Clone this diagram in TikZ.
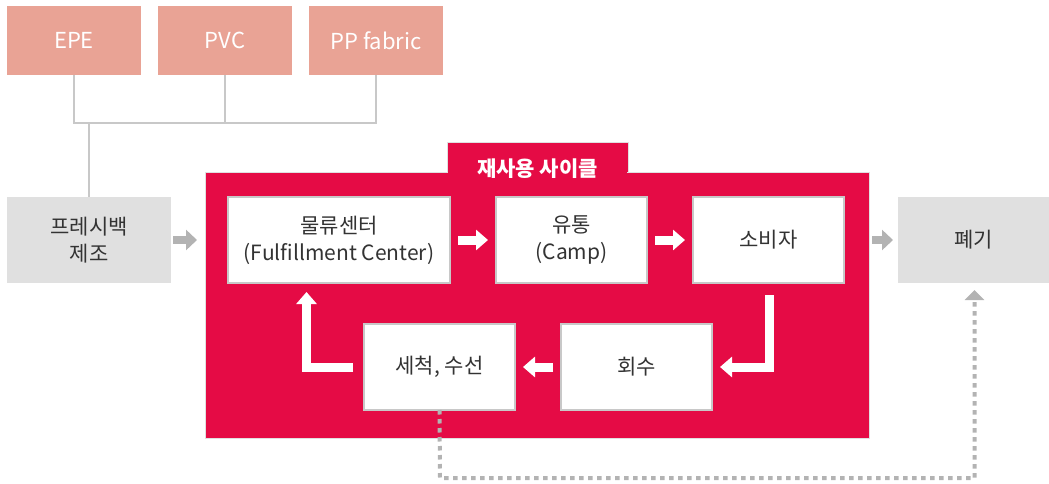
\documentclass[tikz,border=0pt]{standalone}
\usepackage{fontspec}
\setmainfont{Noto Sans CJK KR}
\usetikzlibrary{arrows.meta}
\definecolor{pinkc}{HTML}{E9A395}
\definecolor{redc}{HTML}{E50B45}
\definecolor{greyc}{HTML}{E0E0E0}
\definecolor{linec}{HTML}{C8C8C8}
\definecolor{arrc}{HTML}{B3B3B3}
\definecolor{txtc}{HTML}{333333}
\begin{document}
\begin{tikzpicture}[x=1pt,y=-1pt,
  every node/.style={inner sep=0pt, outer sep=0pt},
  matbox/.style={fill=pinkc, minimum width=134pt, minimum height=69pt, text=white, font=\fontsize{22}{26}\selectfont},
  greybox/.style={fill=greyc, minimum width=164pt, minimum height=86pt, text=txtc, align=center, font=\fontsize{21}{27}\selectfont},
  whitebox/.style={fill=white, draw=linec, line width=1.5pt, minimum width=151pt, minimum height=86pt, text=txtc, align=center, font=\fontsize{21}{27}\selectfont},
  conn/.style={draw=linec, line width=2pt},
  warr/.style={draw=white, line width=9pt, -{Triangle[width=20pt,length=12pt]}},
  garr/.style={draw=arrc, line width=8pt, -{Triangle[width=20pt,length=11pt]}},
  dotarr/.style={draw=arrc, line width=4pt, dash pattern=on 4.5pt off 4.5pt, -{Triangle[width=19pt,length=10pt]}}
]
\useasboundingbox (0,0) rectangle (1049,484);
% material boxes
\node[matbox] (epe) at (74,40.5) {EPE};
\node[matbox] (pvc) at (225,40.5) {PVC};
\node[matbox] (pp) at (376,40.5) {PP fabric};
\coordinate (bus) at (0,123);
% fresh bag box
\node[greybox] (fresh) at (89,240) {프레시백\\제조};
\draw[conn] (epe.south) -- (epe.south|-bus) -- (pp.south|-bus) -- (pp.south);
\draw[conn] (pvc.south) -- (pvc.south|-bus);
\draw[conn] (fresh.north|-bus) -- (fresh.north);
% reuse cycle frame
\node[fill=redc, draw=greyc, line width=1pt, minimum width=181pt, minimum height=30pt] (tab) at (537.5,158) {};
\node[fill=redc, draw=greyc, line width=1pt, minimum width=664pt, minimum height=266pt] (cycle) at (537,305) {};
\fill[redc] (448,168) rectangle (627,176);
\node[text=white, font=\fontsize{21}{25}\selectfont\bfseries] (tabtxt) at (537.5,169) {재사용 사이클};
% inner boxes
\node[whitebox, minimum width=222pt] (mul) at (339,240) {물류센터\\(Fulfillment Center)};
\node[whitebox] (yu) at (571.5,240) {유통\\(Camp)};
\node[whitebox] (so) at (768.5,240) {소비자};
\node[whitebox] (se) at (439.5,367) {세척, 수선};
\node[whitebox] (hoe) at (636.5,367) {회수};
% disposal
\node[greybox, minimum width=151pt] (pye) at (973.5,240) {폐기};
% white arrows
\draw[warr] ([xshift=8pt]mul.east) -- ([xshift=-8pt]yu.west);
\draw[warr] ([xshift=8pt]yu.east) -- ([xshift=-8pt]so.west);
\draw[warr] ([xshift=-8pt]hoe.west) -- ([xshift=8pt]se.east);
\coordinate (l1s) at (769.5,295);
\coordinate (l1e) at (720,367);
\draw[warr] (l1s) |- (l1e);
\coordinate (l2s) at (353,367);
\coordinate (l2e) at (306.5,292);
\draw[warr] (l2s) -| (l2e);
% grey arrows
\draw[garr] ([xshift=2pt]fresh.east) -- ([xshift=-8pt]cycle.west|-fresh.east);
\draw[garr] ([xshift=3pt]cycle.east|-pye.west) -- ([xshift=-5pt]pye.west);
% dotted return path
\coordinate (dl) at (440,478);
\coordinate (dtip) at (974.5,290);
\draw[dotarr] (se.south) -- (dl) -| (dtip);
\end{tikzpicture}
\end{document}
